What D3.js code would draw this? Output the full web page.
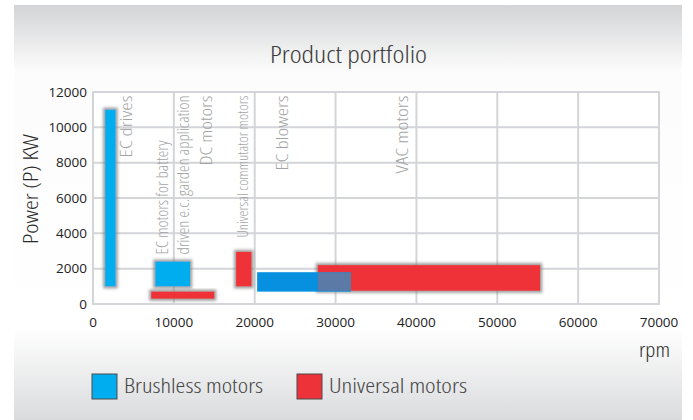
<!DOCTYPE html>
<html>
<head>
<meta charset="utf-8">
<script src="https://cdn.jsdelivr.net/npm/d3@7"></script>
<style>
  body { margin: 0; background: #fff; }
  svg { display: block; }
  text { font-family: 'Open Sans', sans-serif; font-stretch: semi-condensed; font-weight: 300; }
</style>
</head>
<body>
<svg width="693" height="420"></svg>
<script>
// data
var series = ["Brushless motors", "Universal motors"];
var seriesColors = ["#00aeef", "#ee3239"];

var products = ["EC drives", "EC motors for battery driven", "DC motors", "Universal commutator motors", "EC blowers", "VAC motors"];
var productSeries = [0, 0, 1, 1, 0, 1];
var rpmMin = [1500, 7700, 7200, 17700, 20300, 27800];
var rpmMax = [2800, 12000, 15000, 19600, 31900, 55300];
var powerMin = [1000, 1000, 300, 1000, 700, 750];
var powerMax = [11000, 2400, 700, 2950, 1800, 2200];

// annotations (rotated grey names), rpm where each one sits
var labelText = ["EC drives", "EC motors for battery", "driven e.c. garden application", "DC motors", "Universal commutator motors", "EC blowers", "VAC motors"];
var labelRpm = [4200, 8650, 11250, 14100, 18550, 23400, 38300];
var labelFromBottom = [false, true, true, false, false, false, false];

var xTicks = [0, 10000, 20000, 30000, 40000, 50000, 60000, 70000];
var yTicks = [0, 2000, 4000, 6000, 8000, 10000, 12000];

// printed text widths in the original (condensed face), px
var labelLen = [62, 114, 159, 70, 142, 75, 78];
var legendLen = [139, 138];

var svg = d3.select("svg"),
    margin = {top: 92, right: 34, bottom: 116, left: 93},
    width = svg.attr("width") - margin.left - margin.right,
    height = svg.attr("height") - margin.top - margin.bottom;

var defs = svg.append("defs");

// background panel gradient
var grad = defs.append("linearGradient")
    .attr("id", "bg")
    .attr("x1", 0).attr("y1", 0).attr("x2", 0).attr("y2", 1);
grad.append("stop").attr("offset", 0).attr("stop-color", "#d3d4d6");
grad.append("stop").attr("offset", 0.16).attr("stop-color", "#fcfcfc");
grad.append("stop").attr("offset", 0.78).attr("stop-color", "#ffffff");
grad.append("stop").attr("offset", 1).attr("stop-color", "#dadbdd");

// soft grey halo round the bars
var f = defs.append("filter").attr("id", "halo")
    .attr("x", -0.5).attr("y", -0.5).attr("width", 2).attr("height", 2);
f.append("feMorphology").attr("in", "SourceAlpha").attr("operator", "dilate").attr("radius", 1.5).attr("result", "grow");
f.append("feGaussianBlur").attr("in", "grow").attr("stdDeviation", 1.8).attr("result", "blur");
f.append("feFlood").attr("flood-color", "#7a7a7a").attr("flood-opacity", 0.75);
f.append("feComposite").attr("in2", "blur").attr("operator", "in").attr("result", "shadow");
var fm = f.append("feMerge");
fm.append("feMergeNode").attr("in", "shadow");
fm.append("feMergeNode").attr("in", "SourceGraphic");

svg.append("rect")
    .attr("x", 14).attr("y", 5)
    .attr("width", 668).attr("height", 415)
    .attr("fill", "url(#bg)");

var g = svg.append("g").attr("transform", "translate(" + margin.left + "," + margin.top + ")");

var x = d3.scaleLinear().domain([0, 70000]).range([0, width]);
var y = d3.scaleLinear().domain([0, 12000]).range([height, 0]);

// title
svg.append("text")
    .attr("x", 270)
    .attr("y", 63)
    .attr("font-size", 23)
    .attr("textLength", 157)
    .attr("lengthAdjust", "spacingAndGlyphs")
    .attr("fill", "#3a3a3a")
    .text("Product portfolio");

// plot area
g.append("rect")
    .attr("width", width)
    .attr("height", height)
    .attr("fill", "#fff");

// grid
g.append("g")
    .selectAll("line")
    .data(xTicks)
    .enter().append("line")
    .attr("x1", function(d) { return x(d); })
    .attr("x2", function(d) { return x(d); })
    .attr("y1", 0)
    .attr("y2", height)
    .attr("stroke", "#d3d5d8")
    .attr("stroke-width", 2);

g.append("g")
    .selectAll("line")
    .data(yTicks)
    .enter().append("line")
    .attr("x1", -1)
    .attr("x2", width + 1)
    .attr("y1", function(d) { return y(d); })
    .attr("y2", function(d) { return y(d); })
    .attr("stroke", "#d3d5d8")
    .attr("stroke-width", 2);

// tick labels
g.append("g")
    .selectAll("text")
    .data(yTicks)
    .enter().append("text")
    .attr("x", -6)
    .attr("y", function(d) { return y(d); })
    .attr("dy", "0.35em")
    .attr("text-anchor", "end")
    .attr("font-size", 13.5)
    .style("font-weight", 400)
    .style("font-stretch", "normal")
    .attr("fill", "#222")
    .text(function(d) { return d; });

g.append("g")
    .selectAll("text")
    .data(xTicks)
    .enter().append("text")
    .attr("x", function(d) { return x(d); })
    .attr("y", height + 18)
    .attr("dy", "0.35em")
    .attr("text-anchor", "middle")
    .attr("font-size", 13.5)
    .style("font-weight", 400)
    .style("font-stretch", "normal")
    .attr("fill", "#222")
    .text(function(d) { return d; });

// axis titles
svg.append("text")
    .attr("transform", "translate(38,244) rotate(-90)")
    .attr("font-size", 21)
    .attr("textLength", 110)
    .attr("lengthAdjust", "spacingAndGlyphs")
    .attr("fill", "#2a2a2a")
    .text("Power (P) KW");

svg.append("text")
    .attr("x", 639)
    .attr("y", 357)
    .attr("font-size", 20)
    .attr("textLength", 31)
    .attr("lengthAdjust", "spacingAndGlyphs")
    .attr("fill", "#2a2a2a")
    .text("rpm");

// bars, red first so the blue blower bar sits on top
var order = d3.range(products.length).sort(function(a, b) { return productSeries[b] - productSeries[a]; });

g.append("g")
    .selectAll("rect")
    .data(order)
    .enter().append("rect")
    .attr("x", function(i) { return x(rpmMin[i]); })
    .attr("y", function(i) { return y(powerMax[i]); })
    .attr("width", function(i) { return x(rpmMax[i]) - x(rpmMin[i]); })
    .attr("height", function(i) { return y(powerMin[i]) - y(powerMax[i]); })
    .attr("fill", function(i) {
      // EC blowers are printed a deeper blue
      if (products[i] == "EC blowers") return "#0790e0";
      return seriesColors[productSeries[i]];
    })
    .attr("filter", function(i) { return products[i] == "EC blowers" ? null : "url(#halo)"; });

// where EC blowers overlaps VAC motors the colours mix
var a = products.indexOf("EC blowers"), b = products.indexOf("VAC motors");
var ox0 = Math.max(rpmMin[a], rpmMin[b]), ox1 = Math.min(rpmMax[a], rpmMax[b]);
var oy0 = Math.max(powerMin[a], powerMin[b]), oy1 = Math.min(powerMax[a], powerMax[b]);
g.append("rect")
    .attr("x", x(ox0))
    .attr("y", y(oy1))
    .attr("width", x(ox1) - x(ox0))
    .attr("height", y(oy0) - y(oy1))
    .attr("fill", "#5b7aa5");

// grey product names
g.append("g")
    .selectAll("text")
    .data(labelText)
    .enter().append("text")
    .attr("transform", function(d, i) {
      var ly = labelFromBottom[i] ? y(2800) : y(11800);
      return "translate(" + x(labelRpm[i]) + "," + ly + ") rotate(-90)";
    })
    .attr("dy", "0.35em")
    .attr("text-anchor", function(d, i) { return labelFromBottom[i] ? "start" : "end"; })
    .attr("font-size", function(d) { return d.indexOf("Universal") == 0 ? 14 : 15.5; })
    .attr("textLength", function(d, i) { return labelLen[i]; })
    .attr("lengthAdjust", "spacingAndGlyphs")
    .attr("fill", "#a3a3a3")
    .text(function(d) { return d; });

// legend
var legend = svg.append("g")
    .selectAll("g")
    .data(series)
    .enter().append("g")
    .attr("transform", function(d, i) { return "translate(" + (92 + i * 205) + ",374)"; });

legend.append("rect")
    .attr("width", 25)
    .attr("height", 25)
    .attr("fill", function(d, i) { return seriesColors[i]; })
    .attr("stroke", "#4a4a4a")
    .attr("stroke-width", 1);

legend.append("text")
    .attr("x", 32)
    .attr("y", 19)
    .attr("font-size", 21)
    .attr("textLength", function(d, i) { return legendLen[i]; })
    .attr("lengthAdjust", "spacingAndGlyphs")
    .attr("fill", "#444")
    .text(function(d) { return d; });
</script>
</body>
</html>
